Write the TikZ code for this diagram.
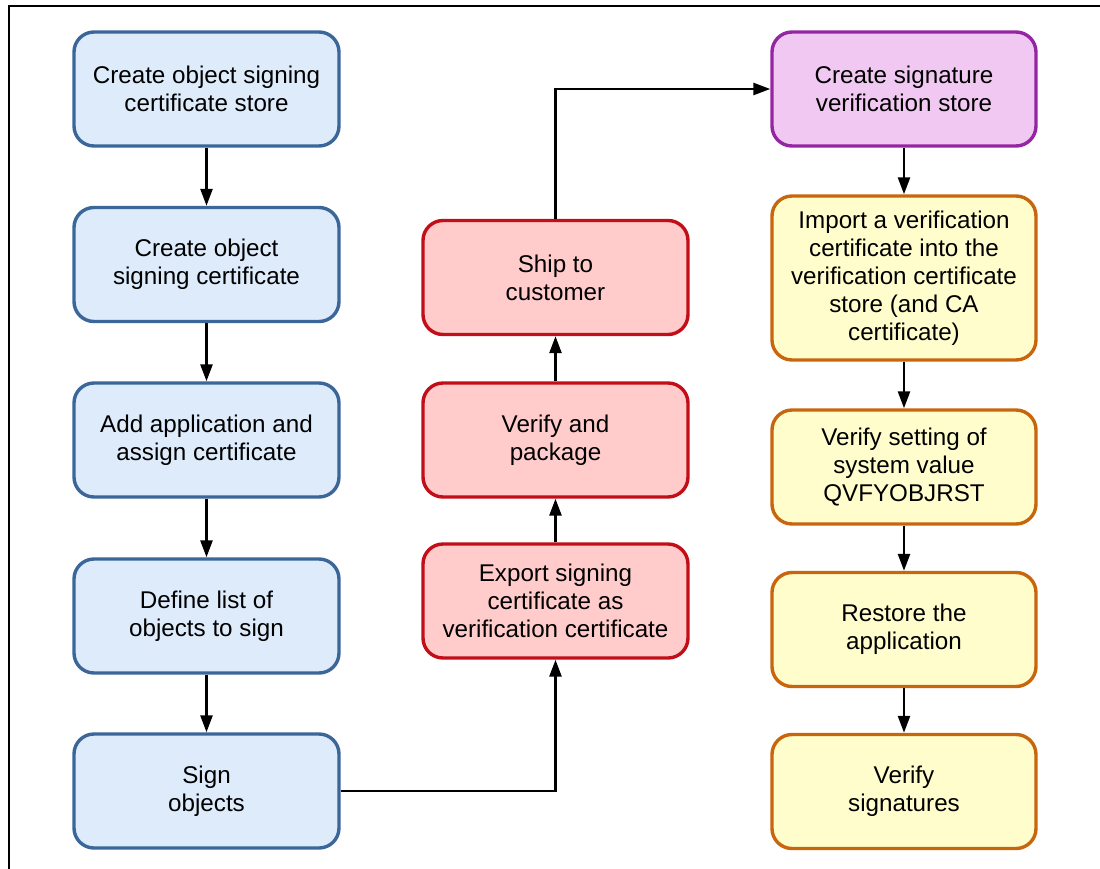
\documentclass[tikz,border=0pt]{standalone}
\usepackage{fontspec}
\setmainfont{Liberation Sans}
\usetikzlibrary{arrows.meta}
\definecolor{bluefill}{HTML}{DDEBFB}
\definecolor{bluedraw}{HTML}{3A6699}
\definecolor{redfill}{HTML}{FFCBCB}
\definecolor{reddraw}{HTML}{C20E18}
\definecolor{purpfill}{HTML}{F1C8F1}
\definecolor{purpdraw}{HTML}{9526A3}
\definecolor{yelfill}{HTML}{FFFDCC}
\definecolor{yeldraw}{HTML}{C8660E}
\tikzset{
  x=0.5pt, y=-0.5pt,
  stepbox/.style={rectangle, rounded corners=10pt, line width=1.7pt,
    minimum width=132.5pt, minimum height=57pt, align=center,
    inner sep=2pt, font=\fontsize{12.1}{14}\selectfont},
  bluebox/.style={stepbox, draw=bluedraw, fill=bluefill},
  redbox/.style={stepbox, draw=reddraw, fill=redfill},
  purpbox/.style={stepbox, draw=purpdraw, fill=purpfill},
  yelbox/.style={stepbox, draw=yeldraw, fill=yelfill},
  flow/.style={line width=1.3pt, -{Triangle[length=8.5pt,width=6pt]}},
}
\begin{document}
\begin{tikzpicture}
\useasboundingbox (0,0) rectangle (1100,869);
% frame
\draw[line width=0.75pt] (1100,6) -- (9,6) -- (9,869);

% preparation steps
\node[bluebox] (b1) at (206.5,89) {Create object signing\\certificate store};
\node[bluebox] (b2) at (206.5,264.5) {Create object\\signing certificate};
\node[bluebox] (b3) at (206.5,440) {Add application and\\assign certificate};
\node[bluebox] (b4) at (206.5,616) {Define list of\\objects to sign};
\node[bluebox] (b5) at (206.5,791) {Sign\\objects};

% distribution steps
\node[redbox] (r3) at (555.5,601) {Export signing\\certificate as\\verification certificate};
\node[redbox] (r2) at (555.5,440) {Verify and\\package};
\node[redbox] (r1) at (555.5,277.5) {Ship to\\customer};

% customer steps
\node[purpbox, minimum width=132pt] (p1) at (904,89) {Create signature\\verification store};
\node[yelbox, minimum width=132pt, minimum height=82pt] (y1) at (904,278) {Import a verification\\certificate into the\\verification certificate\\store (and CA\\certificate)};
\node[yelbox, minimum width=132pt] (y2) at (904,467) {Verify setting of\\system value\\QVFYOBJRST};
\node[yelbox, minimum width=132pt] (y3) at (904,629.5) {Restore the\\application};
\node[yelbox, minimum width=132pt] (y4) at (904,791.5) {Verify\\signatures};

% connectors
\draw[flow] (b1) -- (b2);
\draw[flow] (b2) -- (b3);
\draw[flow] (b3) -- (b4);
\draw[flow] (b4) -- (b5);
\draw[flow] (b5.east) -| (r3.south);
\draw[flow] (r3) -- (r2);
\draw[flow] (r2) -- (r1);
\draw[flow] (r1.north) |- (p1.west);
\draw[flow] (p1) -- (y1);
\draw[flow] (y1) -- (y2);
\draw[flow] (y2) -- (y3);
\draw[flow] (y3) -- (y4);
\end{tikzpicture}
\end{document}
